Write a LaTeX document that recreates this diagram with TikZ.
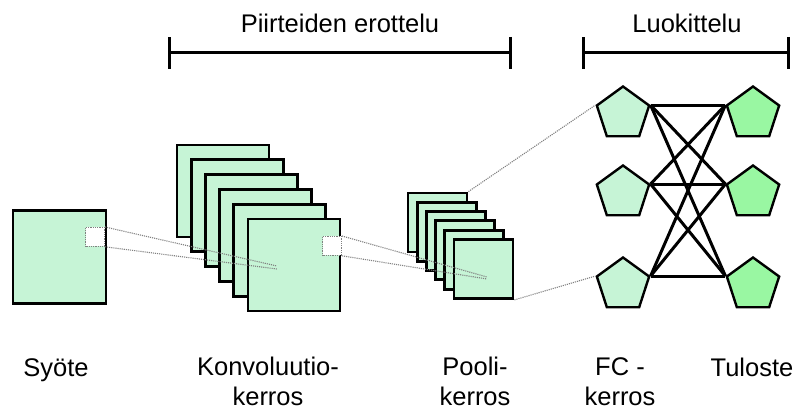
\documentclass[tikz,border=0pt]{standalone}
\usepackage{fontspec}
\setmainfont{Liberation Sans}
\usetikzlibrary{shapes.geometric,arrows.meta}

\definecolor{mapgreen}{HTML}{C6F4D6}
\definecolor{outgreen}{HTML}{99F7A2}

\tikzset{
  map/.style={draw=black, fill=mapgreen, line width=2.8pt, inner sep=0pt},
  patch/.style={draw=gray, densely dotted, fill=white, line width=0.8pt, inner sep=0pt, minimum size=19pt},
  ray/.style={gray, densely dotted, line width=1.1pt},
  neuron/.style={regular polygon, regular polygon sides=5, draw=black, line width=2.4pt, inner sep=0pt, minimum size=55pt},
  link/.style={black, line width=3pt},
  phasebar/.style={line width=3pt, {Bar[width=32pt]}-{Bar[width=32pt]}},
  layertext/.style={font=\fontsize{25.5}{30}\selectfont, align=center, anchor=base, inner sep=0pt},
}

\begin{document}
\begin{tikzpicture}[x=1pt, y=-1pt]
      \useasboundingbox (0,0) rectangle (797,411);

      % input image
      \node[map, minimum size=93pt] (input) at (59.5,257) {};
      \node[patch, anchor=north east] (inpatch) at (105,227) {};

      % convolution maps
      \foreach \i in {1,...,6}
        \node[map, minimum size=92pt] (conv\i) at ({223+14.2*(\i-1)},{191+14.8*(\i-1)}) {};
      \node[patch, anchor=north east] (convpatch) at (342,236) {};

      \coordinate (convfocA) at (277,266);
      \coordinate (convfocB) at (277,269);
      \draw[ray] (inpatch.north east) -- (convfocA);
      \draw[ray] (inpatch.south east) -- (convfocB);

      % pooling maps
      \foreach \i in {1,...,6}
        \node[map, minimum size=59pt] (pool\i) at ({437.5+9.2*(\i-1)},{222.5+9.3*(\i-1)}) {};

      \coordinate (poolfocA) at (487,277);
      \coordinate (poolfocB) at (487,279);
      \draw[ray] (convpatch.north east) -- (poolfocA);
      \draw[ray] (convpatch.south east) -- (poolfocB);

      % fully connected + output
      \node[neuron, fill=mapgreen] (fc1) at (623,114) {};
      \node[neuron, fill=mapgreen] (fc2) at (623,193) {};
      \node[neuron, fill=mapgreen] (fc3) at (623,285) {};
      \node[neuron, fill=outgreen] (out1) at (753,114) {};
      \node[neuron, fill=outgreen] (out2) at (753,193) {};
      \node[neuron, fill=outgreen] (out3) at (753,285) {};

      \draw[ray] (pool1.north east) -- (fc1.corner 2);
      \draw[ray] (pool6.south east) -- (fc3.corner 2);

      \foreach \i in {1,2,3}
        \foreach \j in {1,2,3}
          \draw[link] (fc\i.corner 5) -- (out\j.corner 2);

      % phase brackets
      \coordinate (featL) at (168,53);
      \coordinate (featR) at (512,53);
      \draw[phasebar] (featL) -- (featR);
      \node[layertext] (feattitle) at (340,33) {Piirteiden erottelu};

      \coordinate (clsL) at (582,53);
      \coordinate (clsR) at (790,53);
      \draw[phasebar] (clsL) -- (clsR);
      \node[layertext] (clstitle) at (687,33) {Luokittelu};

      % layer names (two-line nodes sit on their last line)
      \node[layertext] (inputtext) at (56,376) {Syöte};
      \node[layertext] (convtext) at (268,405) {Konvoluutio-\\kerros};
      \node[layertext] (pooltext) at (475,405) {Pooli-\\kerros};
      \node[layertext] (fctext) at (620,405) {FC -\\kerros};
      \node[layertext] (outtext) at (752,376) {Tuloste};
\end{tikzpicture}
\end{document}
